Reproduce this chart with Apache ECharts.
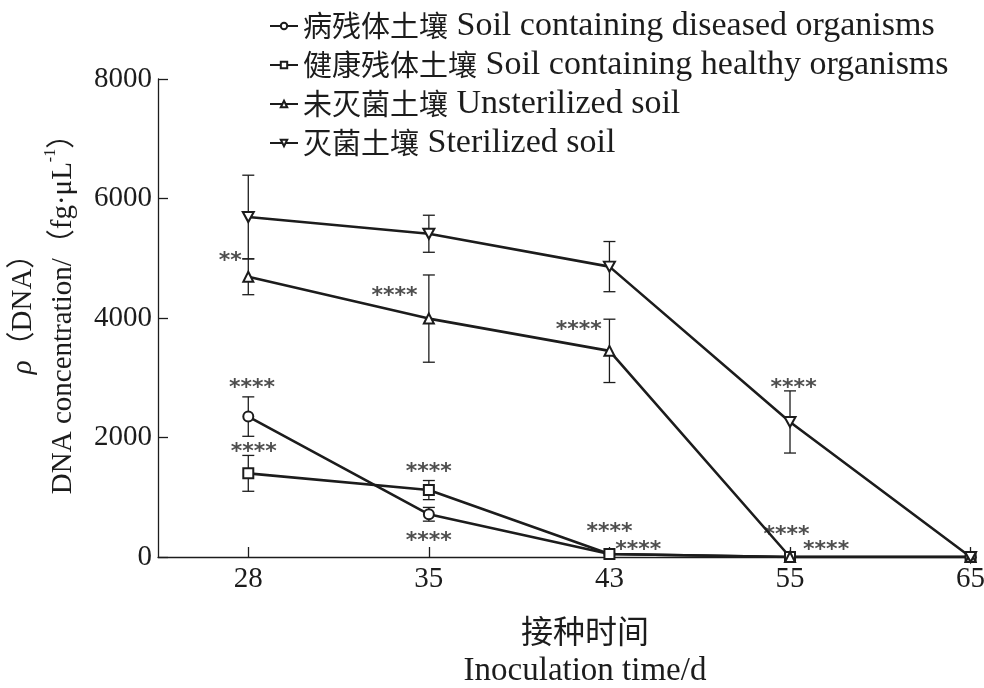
<!DOCTYPE html>
<html>
<head>
<meta charset="utf-8">
<script src="https://cdn.jsdelivr.net/npm/echarts@6/dist/echarts.min.js"></script>
<style>
html, body { margin: 0; padding: 0; background: #fff; }
#main { width: 984px; height: 688px; }
</style>
</head>
<body>
<div id="main"></div>
<script>
var chart = echarts.init(document.getElementById('main'));

// 接种时间 (d)
var days = ['28', '35', '43', '55', '65'];
var yTicks = [0, 2000, 4000, 6000, 8000];

var namesCn = ['病残体土壤', '健康残体土壤', '未灭菌土壤', '灭菌土壤'];
var namesEn = ['Soil containing diseased organisms', 'Soil containing healthy organisms',
               'Unsterilized soil', 'Sterilized soil'];
var symbols = ['circle', 'rect', 'triangle', 'path://M0,0 L10,0 L5,9 Z'];

// means
var diseased    = [2350, 715, 50, 0, 0];
var healthy     = [1400, 1120, 50, 0, 0];
var unsterile   = [4690, 3990, 3450, 0, 0];
var sterile     = [5690, 5410, 4860, 2260, 0];
// error (± SD)
var diseasedErr  = [330, 115, 0, 0, 0];
var healthyErr   = [300, 160, 0, 0, 0];
var unsterileErr = [300, 730, 530, 0, 0];
var sterileErr   = [700, 310, 420, 520, 0];

// significance marks: [x index, y value, text]
var marks = [
    [-0.1, 5090, '**'],
    [0.81, 4500, '****'],
    [1.83, 3920, '****'],
    [0.02, 2950, '****'],
    [0.03, 1890, '****'],
    [1.0, 1560, '****'],
    [1.0, 400, '****'],
    [2.0, 550, '****'],
    [2.16, 250, '****'],
    [2.98, 500, '****'],
    [3.2, 250, '****'],
    [3.02, 2950, '****']
];

var means = [diseased, healthy, unsterile, sterile];
var errs = [diseasedErr, healthyErr, unsterileErr, sterileErr];

var ink = '#1c1c1c';
var serif = '"Liberation Serif", "Times New Roman", "Noto Sans CJK SC", serif';
var cjk = '"Noto Sans CJK SC", "Liberation Serif", serif';

var names = namesCn.map(function (c, i) { return c + ' ' + namesEn[i]; });

function pairs(arr) {
    return arr.map(function (v, i) { return [i, v]; });
}

function errData(m, e) {
    var res = [];
    for (var i = 0; i < m.length; i++) {
        if (e[i] > 0) res.push([i, m[i] - e[i], m[i] + e[i]]);
    }
    return res;
}

var series = [];
for (var k = 0; k < 4; k++) {
    series.push({
        name: 'err' + k,
        type: 'custom',
        silent: true,
        renderItem: function (params, api) {
            var lo = api.coord([api.value(0), api.value(1)]);
            var hi = api.coord([api.value(0), api.value(2)]);
            var w = 6;
            var st = { stroke: ink, lineWidth: 1.3 };
            return {
                type: 'group',
                children: [
                    { type: 'line', shape: { x1: lo[0], y1: lo[1], x2: hi[0], y2: hi[1] }, style: st },
                    { type: 'line', shape: { x1: lo[0] - w, y1: lo[1], x2: lo[0] + w, y2: lo[1] }, style: st },
                    { type: 'line', shape: { x1: hi[0] - w, y1: hi[1], x2: hi[0] + w, y2: hi[1] }, style: st }
                ]
            };
        },
        encode: { x: 0, y: [1, 2] },
        data: errData(means[k], errs[k]),
        z: 1
    });
}
for (var k = 0; k < 4; k++) {
    series.push({
        name: names[k],
        type: 'line',
        color: ink,
        data: pairs(means[k]),
        symbol: symbols[k],
        symbolSize: k === 3 ? [11, 10] : 10,
        showAllSymbol: true,
        lineStyle: { color: ink, width: 2.6 },
        itemStyle: { color: '#fff', borderColor: ink, borderWidth: 2 },
        z: 3
    });
}
series.push({
    type: 'scatter',
    silent: true,
    symbolSize: 0,
    data: marks,
    label: {
        show: true,
        position: 'inside',
        formatter: function (p) { return p.value[2]; },
        fontFamily: '"DejaVu Sans", sans-serif',
        fontSize: 22,
        fontWeight: 'bold',
        color: '#222',
        offset: [0, 8]
    },
    z: 5
});

var option = {
    animation: false,
    backgroundColor: '#fff',
    textStyle: { fontFamily: serif, color: ink },
    grid: { left: 158, right: 8, top: 79, bottom: 131, outerBoundsMode: 'none', containLabel: false },
    legend: {
        orient: 'vertical',
        left: 264,
        top: 4,
        itemGap: 5,
        itemWidth: 28,
        itemHeight: 8,
        data: names,
        formatter: function (n) {
            var i = names.indexOf(n);
            return '{cn|' + namesCn[i] + '}{en|\u00a0' + namesEn[i] + '}';
        },
        textStyle: {
            color: ink,
            rich: {
                cn: { fontFamily: cjk, fontSize: 29, color: ink },
                en: { fontFamily: serif, fontSize: 34, color: ink }
            }
        }
    },
    xAxis: {
        type: 'value',
        min: -0.5,
        max: 4.03,
        splitLine: { show: false },
        axisLine: { show: true, onZero: false, lineStyle: { color: ink, width: 1.3 } },
        axisTick: { show: true, inside: true, length: 10, customValues: [0, 1, 2, 3, 4], lineStyle: { color: ink, width: 1.3 } },
        axisLabel: {
            customValues: [0, 1, 2, 3, 4],
            formatter: function (v) { return days[v]; },
            fontFamily: serif, fontSize: 29, color: ink, margin: 8
        },
        name: '{cn|接种时间}\n{en|Inoculation time/d}',
        nameLocation: 'middle',
        nameGap: 54,
        nameTextStyle: {
            color: ink, lineHeight: 40, padding: [0, 0, 0, 36],
            rich: {
                cn: { fontFamily: cjk, fontSize: 32, color: ink, lineHeight: 40 },
                en: { fontFamily: serif, fontSize: 33, color: ink, lineHeight: 40 }
            }
        }
    },
    yAxis: {
        type: 'value',
        min: yTicks[0],
        max: yTicks[yTicks.length - 1],
        interval: 2000,
        splitLine: { show: false },
        axisLine: { show: true, onZero: false, lineStyle: { color: ink, width: 1.3 } },
        axisTick: { show: true, inside: true, length: 10, lineStyle: { color: ink, width: 1.3 } },
        axisLabel: { fontFamily: serif, fontSize: 29, color: ink, margin: 6, formatter: function (v) { return String(v); } },
        name: '{i|ρ}{t|（DNA）}\n{t|DNA concentration/（fg·μL}{sup|-1}{t|）}',
        nameLocation: 'middle',
        nameGap: 40,
        nameTextStyle: {
            color: ink, lineHeight: 40, padding: [0, 0, 0, 22],
            rich: {
                t: { fontFamily: serif, fontSize: 29, color: ink, lineHeight: 40 },
                i: { fontFamily: serif, fontSize: 29, fontStyle: 'italic', color: ink, lineHeight: 40 },
                sup: { fontFamily: serif, fontSize: 16, color: ink, verticalAlign: 'top', lineHeight: 40, padding: [0, 0, 14, 0] }
            }
        }
    },
    series: series
};

chart.setOption(option);
</script>
</body>
</html>
